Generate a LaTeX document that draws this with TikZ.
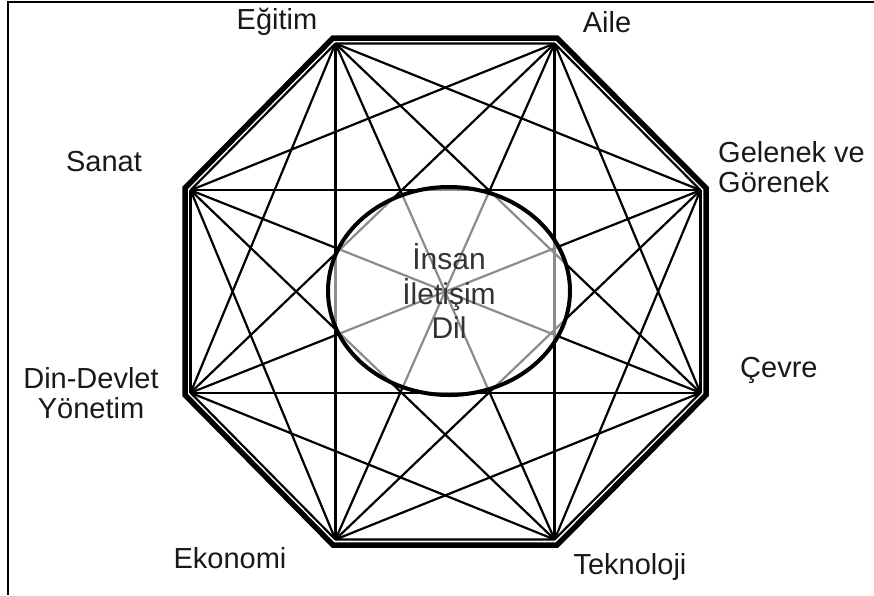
\documentclass[tikz,border=0pt]{standalone}
\usepackage{fontspec}
\setmainfont{Liberation Sans}
\usetikzlibrary{shapes.geometric, calc}
\tikzset{
  chord/.style={line width=2.2pt, black},
  rim/.style={line width=5.5pt, line join=miter, black},
  frame/.style={line width=1.5pt, black},
  lbl/.style={font=\fontsize{29}{30}\selectfont, inner sep=0pt, text=black!90},
  core/.style={ellipse, draw=black, line width=4pt, fill=white, fill opacity=0.55,
               text opacity=1, text=black!80, minimum width=242pt, minimum height=208pt,
               inner sep=0pt, align=center, font=\fontsize{30}{34.5}\selectfont},
}

\begin{document}
\begin{tikzpicture}[x=1pt, y=-1pt]
\useasboundingbox (0,0) rectangle (874,595);

% ── çerçeve (üst ve sol kenar) ──────────────────────────────────────────────
\coordinate (tl) at (8,2);
\coordinate (tr) at (874,2);
\coordinate (bl) at (8,595);
\draw[frame] (tr) -- (tl) -- (bl);

% ── sekizgenin köşeleri ─────────────────────────────────────────────────────
\coordinate (mid) at (445.5,291.5);
\foreach \x/\y [count=\i] in {333/38, 557/38, 706/188, 706/395,
                              557/545, 333/545, 185/395, 185/188} {
  \coordinate (v\i) at (\x,\y);
  \coordinate (p\i) at ($(v\i)!6pt!(mid)$);
}

% ── tüm köşeler arası bağlantılar ───────────────────────────────────────────
\foreach \i in {1,...,7} {
  \pgfmathtruncatemacro\nxt{\i+1}
  \foreach \j in {\nxt,...,8}
    \draw[chord] (p\i) -- (p\j);
}

% ── merkez: İnsan / İletişim / Dil ──────────────────────────────────────────
\node[core] (core) at (449,291) {İnsan\\İletişim\\Dil};

% ── dış sekizgen ────────────────────────────────────────────────────────────
\draw[rim] (v1) -- (v2) -- (v3) -- (v4) -- (v5) -- (v6) -- (v7) -- (v8) -- cycle;

% ── köşe etiketleri ─────────────────────────────────────────────────────────
\node[lbl] (egitim)    at (277,22)  {Eğitim};
\node[lbl] (aile)      at (607,22)  {Aile};
\node[lbl, anchor=west, align=left] (gelenek) at (718,167) {Gelenek ve\\Görenek};
\node[lbl, anchor=west] (cevre) at (740,370) {Çevre};
\node[lbl] (teknoloji) at (630,567) {Teknoloji};
\node[lbl] (ekonomi)   at (230,558) {Ekonomi};
\node[lbl, align=center] (din) at (91,393) {Din-Devlet\\Yönetim};
\node[lbl] (sanat)     at (104,162) {Sanat};

\end{tikzpicture}
\end{document}
